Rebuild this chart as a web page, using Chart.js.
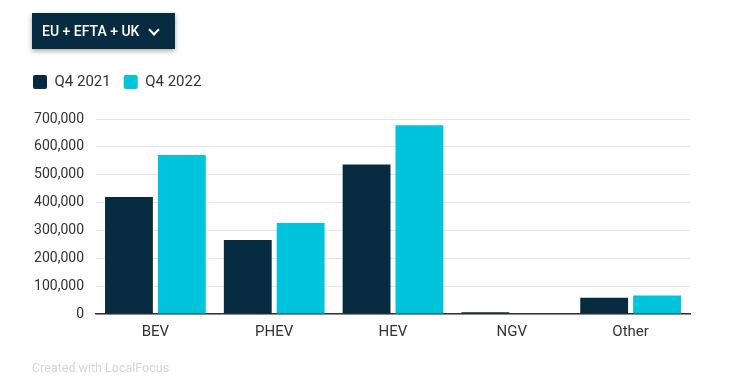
<!DOCTYPE html>
<html>
<head>
<meta charset="utf-8">
<script src="https://cdn.jsdelivr.net/npm/chart.js@4/dist/chart.umd.min.js"></script>
<style>
  html, body { margin: 0; padding: 0; background: #fff; width: 750px; height: 390px; overflow: hidden; font-family: Roboto, "Noto Sans", sans-serif; }
  #wrap { position: relative; width: 750px; height: 390px; }
  #chart { position: absolute; left: 0; top: 0; }
  #selector { position: absolute; left: 32px; top: 13px; width: 143px; height: 36px; background: #072b41; color: #fff; box-shadow: 0 2px 5px rgba(0,0,0,0.35); font-size: 14px; font-weight: 500; line-height: 36px; box-sizing: border-box; padding-left: 10px; }
  #selector .chev { position: absolute; left: 118px; top: 13px; width: 6px; height: 6px; border-right: 2px solid #fff; border-bottom: 2px solid #fff; transform: rotate(45deg); }
  #footer { position: absolute; left: 32px; top: 360px; font-size: 12.5px; color: #d6d6d6; }
</style>
</head>
<body>
<div id="wrap">
  <canvas id="chart" width="750" height="390"></canvas>
  <div id="selector">EU + EFTA + UK<span class="chev"></span></div>
  <div id="footer">Created with LocalFocus</div>
</div>
<script>
const categories = ["BEV", "PHEV", "HEV", "NGV", "Other"];
const seriesNames = ["Q4 2021", "Q4 2022"];
const q42021 = [420000, 266000, 537000, 6000, 58000];
const q42022 = [571000, 327000, 678000, 1500, 66000];
const yTicks = [0, 100000, 200000, 300000, 400000, 500000, 600000, 700000];

const DARK = "#072b41";
const CYAN = "#00c3dc";

const legendSpacer = {
  id: "legendSpacer",
  beforeInit(chart) {
    const fit = chart.legend.fit;
    chart.legend.fit = function () {
      fit.bind(chart.legend)();
      this.height += 19.5;
    };
  }
};

new Chart(document.getElementById("chart"), {
  type: "bar",
  data: {
    labels: categories,
    datasets: [
      { label: seriesNames[0], data: q42021, backgroundColor: DARK, categoryPercentage: 0.89, barPercentage: 0.905 },
      { label: seriesNames[1], data: q42022, backgroundColor: CYAN, categoryPercentage: 0.89, barPercentage: 0.905 }
    ]
  },
  options: {
    responsive: false,
    animation: false,
    devicePixelRatio: 1,
    layout: { padding: { left: 20, right: 60, top: 61.5, bottom: 46 } },
    plugins: {
      tooltip: { enabled: false },
      legend: {
        position: "top",
        align: "start",
        labels: {
          boxWidth: 14,
          boxHeight: 14,
          padding: 13,
          useBorderRadius: true,
          borderRadius: 2,
          color: "#333",
          font: { family: "Roboto", size: 15 }
        }
      }
    },
    scales: {
      x: {
        grid: { display: false, drawTicks: false },
        border: { display: true, color: "#333", width: 1.5 },
        ticks: { color: "#333", font: { family: "Roboto", size: 15 }, padding: 9 },
        afterFit(s) { s.height = 30; }
      },
      y: {
        min: 0,
        max: 700000,
        afterBuildTicks(s) { s.ticks = yTicks.map(v => ({ value: v })); },
        grid: { color: "#e6e6e6", lineWidth: 1, drawTicks: false },
        border: { display: false },
        ticks: {
          color: "#333",
          padding: 12,
          font: { family: "Roboto", size: 14 },
          callback: v => v.toLocaleString("en-US")
        },
        afterFit(s) { s.width = 76; }
      }
    }
  },
  plugins: [legendSpacer]
});
</script>
</body>
</html>
